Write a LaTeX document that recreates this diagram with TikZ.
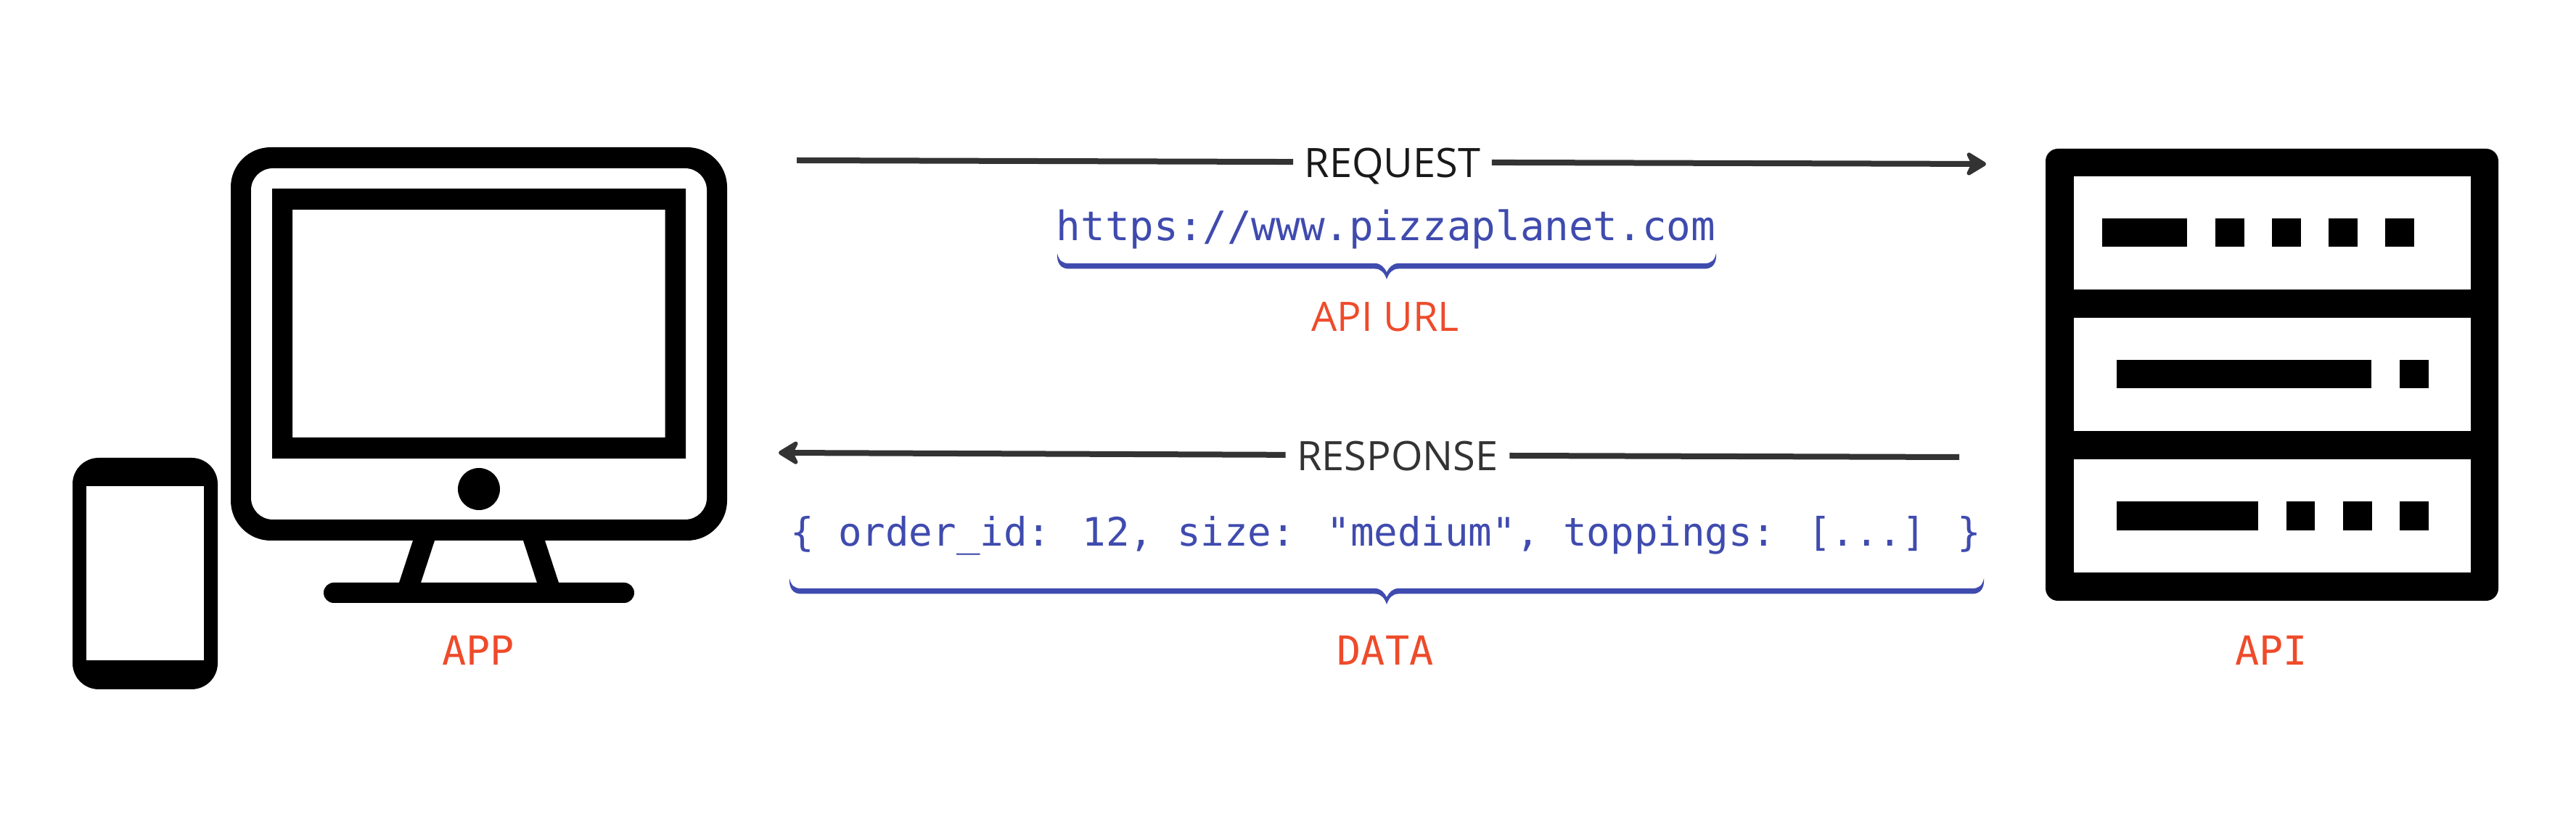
\documentclass[tikz,border=0pt]{standalone}
\usepackage{fontspec}
\setmainfont{Open Sans}
\newfontfamily\codefont{DejaVu Sans Mono}
\usetikzlibrary{arrows.meta}
\definecolor{apiblue}{HTML}{3F4BAE}
\definecolor{labelred}{HTML}{EE4B2B}
\definecolor{arrowgray}{HTML}{333333}
\tikzset{
    flowline/.style={arrowgray, line width=0.08cm},
    flowtext/.style={anchor=base, inner xsep=0.15cm, inner ysep=0pt, text height=0.43cm, text depth=0pt, font=\fontsize{15.9}{19}\selectfont},
    codetext/.style={anchor=base, inner sep=0pt, text=apiblue},
    redmono/.style={anchor=base, inner sep=0pt, text=labelred, font=\codefont\fontsize{15.7}{19}\selectfont},
    redsans/.style={anchor=base, inner sep=0pt, text=labelred, font=\fontsize{15.9}{19}\selectfont},
}
\newcommand{\apibrace}[4]{
    \fill[apiblue] (#1,#4) .. controls (#1+.02,#4-.1) and (#1+.07,#4-.14) .. (#1+.16,#4-.14)
        -- (#2-.16,#4-.14) .. controls (#2-.08,#4-.14) and (#2-.03,#4-.2) .. (#2,#4-.26)
        .. controls (#2+.03,#4-.2) and (#2+.08,#4-.14) .. (#2+.16,#4-.14)
        -- (#3-.16,#4-.14) .. controls (#3-.07,#4-.14) and (#3-.02,#4-.1) .. (#3,#4)
        .. controls (#3+.01,#4-.14) and (#3-.05,#4-.215) .. (#3-.16,#4-.215)
        -- (#2+.16,#4-.215) .. controls (#2+.08,#4-.215) and (#2+.03,#4-.27) .. (#2,#4-.36)
        .. controls (#2-.03,#4-.27) and (#2-.08,#4-.215) .. (#2-.16,#4-.215)
        -- (#1+.16,#4-.215) .. controls (#1+.05,#4-.215) and (#1-.01,#4-.14) .. (#1,#4) -- cycle;
}
\begin{document}
\begin{tikzpicture}[>={Stealth[length=0.33cm, width=0.40cm, inset=0.10cm, round]}]
            \useasboundingbox (0,0) rectangle (35.5,11.26);
            % monitor
            \fill[rounded corners=0.55cm] (3.18,3.81) rectangle (10.02,9.23);
            \fill[white, rounded corners=0.30cm] (3.46,4.10) rectangle (9.74,8.94);
            \fill[even odd rule] (3.75,4.94) rectangle (9.45,8.66) (4.03,5.23) rectangle (9.165,8.37);
            \fill (6.60,4.52) circle (0.29);
            \fill (5.69,3.81) -- (5.50,3.23) -- (5.80,3.23) -- (5.99,3.81) -- cycle;
            \fill (7.21,3.81) -- (7.51,3.81) -- (7.70,3.23) -- (7.40,3.23) -- cycle;
            \fill[rounded corners=0.14cm] (4.46,2.95) rectangle (8.74,3.23);
            % phone
            \fill[rounded corners=0.36cm] (1.00,1.76) rectangle (3.00,4.95);
            \fill[white] (1.19,2.16) rectangle (2.81,4.56);
            % server
            \fill[rounded corners=0.17cm] (28.19,2.98) rectangle (34.43,9.21);
            \fill[white] (28.58,7.27) rectangle (34.045,8.83);
            \fill[white] (28.58,5.315) rectangle (34.045,6.88);
            \fill[white] (28.58,3.37) rectangle (34.045,4.93);
            \fill (28.97,7.855) rectangle (30.14,8.25);
            \foreach \x in {30.53,31.31,32.09,32.87} {
                \fill (\x,7.855) rectangle ++(0.395,0.395);
            }
            \fill (29.17,5.91) rectangle (32.68,6.295);
            \fill (33.07,5.91) rectangle ++(0.395,0.385);
            \fill (29.17,3.95) rectangle (31.12,4.35);
            \foreach \x in {31.505,32.29,33.07} {
                \fill (\x,3.95) rectangle ++(0.395,0.40);
            }
            % request
            \coordinate (reqstart) at (10.98,9.05);
            \coordinate (reqend) at (27.37,9.00);
            \node (request) at (19.19,8.81) [flowtext, text=black!90] {REQUEST};
            \draw[flowline] (reqstart) -- (request);
            \draw[flowline, ->] (request) -- (reqend);
            \node (apiurlcode) at (19.10,7.94) [codetext, font=\codefont\fontsize{15.9}{19}\selectfont] {https://www.pizzaplanet.com};
            \apibrace{14.57}{19.11}{23.65}{7.77}
            \node (apiurl) at (19.09,6.69) [redsans] {API URL};
            % response
            \coordinate (respstart) at (27.00,4.96);
            \coordinate (respend) at (10.73,5.02);
            \node (response) at (19.26,4.77) [flowtext, text=arrowgray] {RESPONSE};
            \draw[flowline] (respstart) -- (response);
            \draw[flowline, ->] (response) -- (respend);
            \node (datacode) at (19.10,3.73) [codetext, font=\codefont\fontsize{15.4}{19}\selectfont] {\{ order\_id: 12, size: "medium", toppings: [...] \}};
            \apibrace{10.88}{19.11}{27.34}{3.29}
            % labels
            \node (datalabel) at (19.09,2.09) [redmono] {DATA};
            \node (applabel) at (6.59,2.09) [redmono] {APP};
            \node (apilabel) at (31.30,2.09) [redmono] {API};
        \end{tikzpicture}
\end{document}
